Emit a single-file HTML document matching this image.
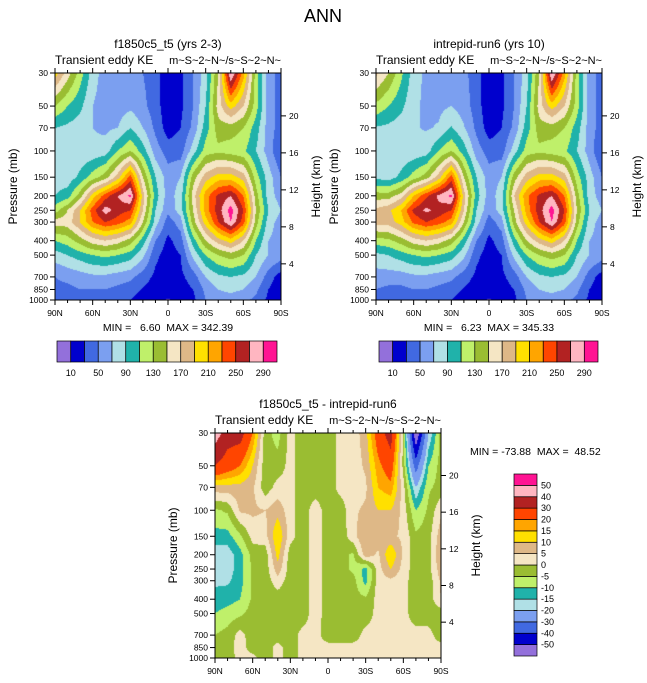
<!DOCTYPE html>
<html><head><meta charset="utf-8">
<style>
body{margin:0;background:#fff;}
#wrap{position:relative;width:647px;height:683px;overflow:hidden;font-family:"Liberation Sans",sans-serif;}
canvas,svg{position:absolute;left:0;top:0;}
text{white-space:pre;}
</style></head>
<body>
<div id="wrap">
<canvas id="cv" width="647" height="683"></canvas>
<svg id="sv" width="647" height="683"></svg>
</div>
<script>
const lats=[90,80,70,60,50,40,30,20,10,0,-10,-20,-30,-40,-50,-60,-70,-80,-90];
const levels=[30,50,70,100,150,200,250,300,400,500,700,850,1000];
const latLabels=["90N","60N","30N","0","30S","60S","90S"];
const latTicks=[90,60,30,0,-30,-60,-90];
const heightTicks=[4,8,12,16,20];
const keContours=[10,30,50,70,90,110,130,150,170,190,210,230,250,270,290];
const keColors=["#9370db","#0000cd","#4169e1","#7b9ff0","#b0e0e6","#20b2aa","#bff06a","#9abd32","#f5e6c4","#deb887","#ffe000","#ffa500","#ff4500","#b22222","#ffb6c1","#ff1493"];
const keBarLabels=["10","50","90","130","170","210","250","290"];
const diffContours=[-50,-40,-30,-20,-15,-10,-5,0,5,10,15,20,30,40,50];
const diffColors=["#9370db","#0000cd","#4169e1","#7b9ff0","#b0e0e6","#20b2aa","#bff06a","#9abd32","#f5e6c4","#deb887","#ffe000","#ffa500","#ff4500","#b22222","#ffb6c1","#ff1493"];
const diffBarLabels=["-50","-40","-30","-20","-15","-10","-5","0","5","10","15","20","30","40","50"];
const ke1=[
[200,160,120,80,60,60,60,50,40,15,25,50,80,150,295,220,120,60,40],
[130,110,95,70,60,60,65,55,40,15,25,50,90,160,200,170,120,60,40],
[90,85,80,70,65,70,90,70,45,20,30,55,100,140,140,130,100,60,40],
[75,75,75,75,80,110,130,100,60,40,40,80,120,125,120,115,90,60,30],
[80,78,95,120,140,180,240,150,90,60,70,140,180,200,200,180,120,80,50],
[90,100,140,200,240,270,295,180,100,60,80,160,220,255,270,230,140,80,60],
[120,150,190,240,280,260,250,170,90,55,80,150,220,260,300,250,150,90,70],
[160,160,190,230,250,240,220,150,80,40,60,140,200,250,290,240,140,80,60],
[110,120,140,160,170,160,140,100,50,25,40,100,150,180,200,170,110,70,60],
[80,90,100,110,115,110,100,75,35,20,30,75,110,130,140,130,90,70,60],
[50,55,60,65,65,60,55,40,25,20,25,40,70,85,90,85,70,40,20],
[45,45,50,50,50,45,40,28,20,20,20,30,55,70,75,70,55,30,15],
[35,35,40,40,40,35,30,20,20,8,20,25,50,60,60,55,45,25,10]];
const ke2=[
[175,150,115,80,65,65,65,55,40,15,25,50,80,150,295,220,120,60,40],
[125,110,95,75,65,65,70,60,40,15,25,50,90,160,200,170,120,60,40],
[88,85,80,72,68,72,92,72,45,20,30,55,100,140,140,130,100,60,40],
[75,75,75,75,80,110,130,100,60,40,40,80,120,125,120,115,90,60,30],
[85,80,95,120,140,180,240,150,90,60,70,140,180,200,200,180,120,80,50],
[140,140,160,210,245,275,295,180,100,60,80,170,225,255,270,230,140,80,60],
[175,185,210,255,275,262,250,170,90,55,80,150,220,260,300,250,150,90,70],
[180,180,200,235,250,240,220,150,80,40,60,140,200,250,290,240,140,80,60],
[120,125,140,160,170,160,140,100,50,25,40,100,150,180,200,170,110,70,60],
[85,90,100,110,115,110,100,75,35,20,30,75,110,130,140,130,90,70,60],
[60,60,60,65,65,60,55,40,25,20,25,40,70,85,90,85,70,40,20],
[50,45,45,50,50,45,40,28,20,20,20,30,55,70,75,70,55,30,15],
[45,40,40,40,40,35,30,20,20,8,20,25,50,60,60,55,45,25,10]];
const diff=[
[45,35,35,20,-3,-7,2,-3,-3,-3,2,2,8,25,35,-2,-60,-20,-3],
[30,25,20,10,-3,-3,2,-3,-3,-3,2,2,6,18,25,-2,-35,-10,-3],
[8,8,8,6,-3,2,2,-3,-3,-3,2,2,4,15,18,2,-20,-6,-3],
[-6,-4,6,6,5,8,2,-3,3,-3,-3,4,6,10,10,3,-10,-4,4],
[-12,-12,-6,2,3,15,2,-3,3,-3,-3,3,10,8,6,4,-4,-2,8],
[-18,-18,-12,-3,-3,12,-3,-3,3,-3,-3,-6,8,4,15,4,-3,-2,10],
[-18,-18,-12,-4,-3,8,-3,-3,3,-3,-3,-6,-12,3,10,3,-3,-2,8],
[-16,-16,-12,-4,-3,3,-3,-3,3,-3,-3,-3,-12,3,4,2,-3,-3,6],
[-13,-12,-10,-4,-3,-3,-3,-3,3,-3,-3,-3,-4,2,2,2,-3,-3,5],
[-10,-8,-6,-3,-3,-3,-3,-3,3,-3,-3,-3,-3,2,2,2,-3,-3,-3],
[-5,-3,2,-3,-3,-3,-3,2,2,-3,-3,-3,2,2,2,2,2,2,-3],
[-3,-3,3,-3,-3,2,-3,2,2,2,2,2,2,2,2,2,2,2,2],
[-3,-3,2,2,-3,2,-3,2,2,2,2,2,2,2,2,2,2,2,2]];

const NS="http://www.w3.org/2000/svg";
const sv=document.getElementById('sv');
const ctx=document.getElementById('cv').getContext('2d');
function el(tag,attrs,parent){const e=document.createElementNS(NS,tag);for(const k in attrs)e.setAttribute(k,attrs[k]);(parent||sv).appendChild(e);return e;}
function txt(x,y,s,size,anchor,parent,rot){const t=el('text',{x:x,y:y,'font-size':size,'text-anchor':anchor||'middle',fill:'#000'},parent);if(rot)t.setAttribute('transform','rotate(-90 '+x+' '+y+')');t.textContent=s;return t;}
function colorFor(v,cont,cols){let i=0;while(i<cont.length&&v>=cont[i])i++;return cols[i];}

function panel(px,py,w,h,data,cont,cols,name){
  const xS=lat=>px+(90-lat)/180*w;
  const yS=p=>py+Math.log(p/30)/Math.log(1000/30)*h;
  const lp=levels.map(p=>Math.log(p));
  for(let yy=0;yy<h;yy++){
    const p=Math.exp(Math.log(30)+(yy+0.5)/h*Math.log(1000/30));
    const l=Math.log(p);let j=0;while(j<levels.length-2&&l>lp[j+1])j++;
    const ty=Math.min(1,Math.max(0,(l-lp[j])/(lp[j+1]-lp[j])));
    for(let xx=0;xx<w;xx++){
      const lat=90-(xx+0.5)/w*180;const fx=(90-lat)/10;let i=Math.min(lats.length-2,Math.floor(fx));const tx=fx-i;
      const v=(data[j][i]*(1-tx)+data[j][i+1]*tx)*(1-ty)+(data[j+1][i]*(1-tx)+data[j+1][i+1]*tx)*ty;
      ctx.fillStyle=colorFor(v,cont,cols);ctx.fillRect(px+xx,py+yy,1,1);
    }
  }
  const g=el('g',{});
  
  
  el('rect',{x:px,y:py,width:w,height:h,fill:'none',stroke:'#000','stroke-width':1},g);
  levels.forEach(p=>{const y=yS(p);el('line',{x1:px-5,x2:px,y1:y,y2:y,stroke:'#000'},g);txt(px-7,y+3,String(p),8.5,'end',g);});
  latTicks.forEach((lat,k)=>{const x=xS(lat);el('line',{x1:x,x2:x,y1:py+h,y2:py+h+5,stroke:'#000'},g);el('line',{x1:x,x2:x,y1:py,y2:py-5,stroke:'#000'},g);txt(x,py+h+16,latLabels[k],8.5,'middle',g);});
  for(let lat=80;lat>-90;lat-=10){if(lat%30){const x=xS(lat);el('line',{x1:x,x2:x,y1:py+h,y2:py+h+3,stroke:'#000'},g);el('line',{x1:x,x2:x,y1:py,y2:py-3,stroke:'#000'},g);}}
  heightTicks.forEach(km=>{const p=1013*Math.exp(-km/7);const y=yS(p);el('line',{x1:px+w,x2:px+w+5,y1:y,y2:y,stroke:'#000'},g);txt(px+w+8,y+3,String(km),8.5,'start',g);});
  txt(px-38,py+h/2,'Pressure (mb)',12,'middle',g,true);
  txt(px+w+39,py+h/2,'Height (km)',12,'middle',g,true);
  txt(px,py-9,'Transient eddy KE',12,'start',g);
  txt(px+w,py-9,'m~S~2~N~/s~S~2~N~',11,'end',g);
}
function hbar(x,y,w,h,cols,labels,name){
  const g=el('g',{});
  
  
  const bw=w/cols.length;
  cols.forEach((c,i)=>el('rect',{x:x+i*bw,y:y,width:bw,height:h,fill:c,stroke:'#000','stroke-width':0.7},g));
  labels.forEach((s,k)=>txt(x+(1+2*k)*bw,y+h+14,s,9,'middle',g));
}
function vbar(x,y,w,h,cols,labels,name){
  const g=el('g',{});
  
  
  const bh=h/cols.length;
  cols.forEach((c,i)=>el('rect',{x:x,y:y+h-(i+1)*bh,width:w,height:bh,fill:c,stroke:'#000','stroke-width':0.7},g));
  labels.forEach((s,k)=>txt(x+w+4,y+h-(k+1)*bh+3,s,9,'start',g));
}
txt(323,22,'ANN',18,'middle');
txt(168,48,'f1850c5_t5 (yrs 2-3)',12,'middle');
txt(489,48,'intrepid-run6 (yrs 10)',12,'middle');
panel(55,73,226,227,ke1,keContours,keColors,'panel-control');
panel(376,73,226,227,ke2,keContours,keColors,'panel-test');
txt(168,331,'MIN =   6.60  MAX = 342.39',10.5,'middle');
txt(489,331,'MIN =   6.23  MAX = 345.33',10.5,'middle');
hbar(57,341,220,21,keColors,keBarLabels,'colorbar-control');
hbar(379,341,219,21,keColors,keBarLabels,'colorbar-test');
txt(328,408,'f1850c5_t5 - intrepid-run6',12,'middle');
panel(215,433,226,225,diff,diffContours,diffColors,'panel-difference');
txt(470,455,'MIN = -73.88  MAX =  48.52',10.5,'start');
vbar(514,474,23,182,diffColors,diffBarLabels,'colorbar-difference');
</script>
</body></html>
